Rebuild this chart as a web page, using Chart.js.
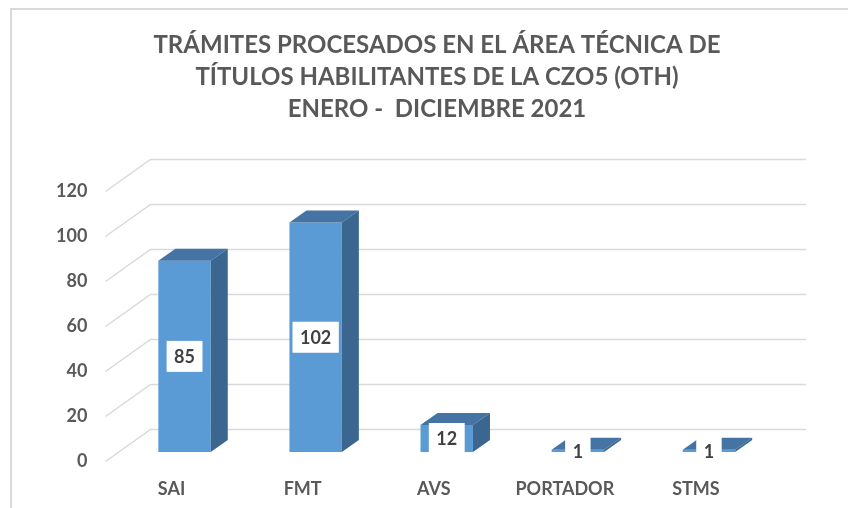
<!DOCTYPE html>
<html>
<head>
<meta charset="utf-8">
<script src="https://cdn.jsdelivr.net/npm/chart.js"></script>
<style>
  body { margin: 0; background: #fff; }
</style>
</head>
<body>
<canvas id="chart" width="848" height="508"></canvas>
<script>
// data
const categories = ['SAI', 'FMT', 'AVS', 'PORTADOR', 'STMS'];
const tramites = [85, 102, 12, 1, 1];
const titleLines = [
  'TRÁMITES PROCESADOS EN EL ÁREA TÉCNICA DE',
  'TÍTULOS HABILITANTES DE LA CZO5 (OTH)',
  'ENERO -  DICIEMBRE 2021'
];

const FONT = 'Lato, "Open Sans", sans-serif';
const GRAY = '#595959';

// fake 3d: depth offsets from the bar plane
const FRONT = { dx: -13.5, dy: 9.5 };
const BACK = { dx: 31.5, dy: -22.5 };
const BAR_DX = 17, BAR_DY = 12;

const box3d = {
  id: 'box3d',
  beforeDraw(chart) {
    const ctx = chart.ctx;
    ctx.save();
    ctx.strokeStyle = '#D9D9D9';
    ctx.lineWidth = 2;
    ctx.beginPath();
    ctx.moveTo(11, 508);
    ctx.lineTo(11, 9);
    ctx.lineTo(848, 9);
    ctx.stroke();
    ctx.restore();
  },
  beforeDatasetsDraw(chart) {
    const ctx = chart.ctx;
    const y = chart.scales.y;
    const area = chart.chartArea;
    ctx.save();
    ctx.strokeStyle = '#D9D9D9';
    ctx.lineWidth = 1.5;
    y.ticks.forEach(t => {
      const py = y.getPixelForValue(t.value);
      ctx.beginPath();
      ctx.moveTo(area.left + FRONT.dx, py + FRONT.dy);
      ctx.lineTo(area.left + BACK.dx, py + BACK.dy);
      ctx.lineTo(area.right + BACK.dx, py + BACK.dy);
      ctx.stroke();
    });
    ctx.restore();
  },
  afterDatasetsDraw(chart) {
    const ctx = chart.ctx;
    const meta = chart.getDatasetMeta(0);
    ctx.save();
    meta.data.forEach(bar => {
      const l = bar.x - bar.width / 2, r = bar.x + bar.width / 2;
      const top = bar.y, base = bar.base;
      // top face
      ctx.fillStyle = '#4573A3';
      ctx.beginPath();
      ctx.moveTo(l, top);
      ctx.lineTo(l + BAR_DX, top - BAR_DY);
      ctx.lineTo(r + BAR_DX, top - BAR_DY);
      ctx.lineTo(r, top);
      ctx.closePath();
      ctx.fill();
      // side face
      ctx.fillStyle = '#3A6690';
      ctx.beginPath();
      ctx.moveTo(r, top);
      ctx.lineTo(r + BAR_DX, top - BAR_DY);
      ctx.lineTo(r + BAR_DX, base - BAR_DY);
      ctx.lineTo(r, base);
      ctx.closePath();
      ctx.fill();
    });
    // value labels
    ctx.font = 'bold 18px ' + FONT;
    ctx.textAlign = 'center';
    ctx.textBaseline = 'middle';
    meta.data.forEach((bar, i) => {
      const txt = String(tramites[i]);
      const w = ctx.measureText(txt).width + 15;
      const h = 31;
      const cy = (bar.y + bar.base) / 2;
      ctx.fillStyle = '#fff';
      ctx.fillRect(bar.x - w / 2, cy - h / 2, w, h);
      ctx.fillStyle = '#404040';
      ctx.fillText(txt, bar.x, cy + 1);
    });
    ctx.restore();
  }
};

new Chart(document.getElementById('chart'), {
  type: 'bar',
  data: {
    labels: categories,
    datasets: [{
      data: tramites,
      backgroundColor: '#5B9BD5',
      barPercentage: 0.4,
      categoryPercentage: 1
    }]
  },
  options: {
    responsive: false,
    animation: false,
    layout: { padding: { left: 99.5, right: 73.5, top: 29, bottom: 8 } },
    plugins: {
      legend: { display: false },
      tooltip: { enabled: false },
      title: {
        display: true,
        text: titleLines,
        color: GRAY,
        font: { family: FONT, size: 24, weight: 'bold', lineHeight: 32 / 24 },
        padding: { top: 0, bottom: 57 }
      }
    },
    scales: {
      x: {
        afterFit: s => { s.height = 48; },
        grid: { display: false, drawTicks: false },
        border: { display: false },
        ticks: {
          color: GRAY,
          font: { family: FONT, size: 18, weight: 'bold' },
          padding: 26,
          labelOffset: -13,
          maxRotation: 0
        }
      },
      y: {
        min: 0,
        max: 120,
        // labels sit left of the narrow axis box (mirror avoids clipping)
        afterFit: s => { s.width = 19.5; s.paddingTop = 0; s.paddingBottom = 0; },
        grid: { display: false, drawTicks: false },
        border: { display: false },
        ticks: {
          stepSize: 20,
          color: GRAY,
          font: { family: FONT, size: 18, weight: 'bold' },
          mirror: true,
          crossAlign: 'far',
          padding: -63,
          labelOffset: 9
        }
      }
    }
  },
  plugins: [box3d]
});
</script>
</body>
</html>
